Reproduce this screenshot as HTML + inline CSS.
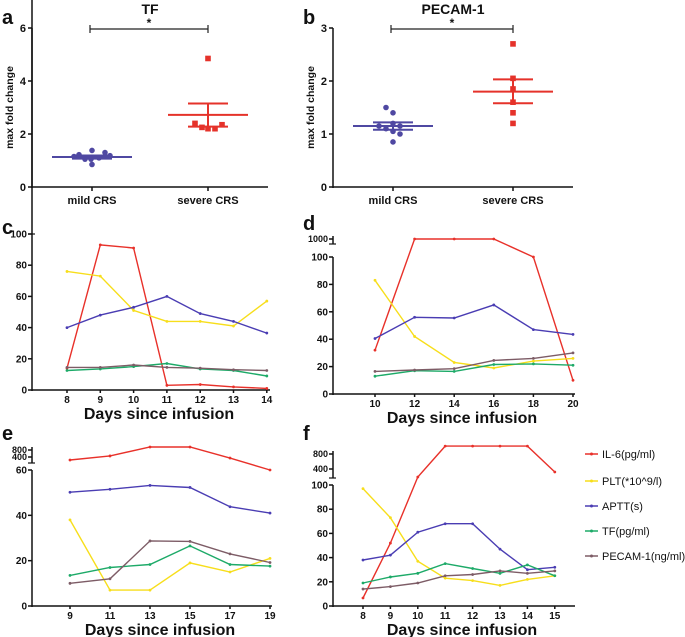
<!DOCTYPE html>
<html><head><meta charset="utf-8"><style>
body{margin:0;background:#fff;}
svg{display:block;font-family:"Liberation Sans",Arial,sans-serif;}
text{font-weight:bold;fill:#111;}
</style></head><body>
<svg id="fig" width="685" height="637" viewBox="0 0 685 637"></svg>
<script>
// ---- Panel a/b data ----
const abCategories = ["mild CRS","severe CRS"];
const aMild = [1.22,1.38,1.3,1.1,1.05,1.15,1.18,1.05,0.85];
const aSevere = [4.85,2.4,2.25,2.2,2.2,2.35];
const aStats = [[1.13,1.19,1.07],[2.72,3.15,2.28]];
const bMild = [1.5,1.4,1.2,1.15,1.15,1.1,1.05,0.85,1.0];
const bSevere = [2.7,2.05,1.85,1.6,1.4,1.2];
const bStats = [[1.15,1.22,1.08],[1.8,2.03,1.58]];
// ---- line panels ----
const seriesNames = ["IL-6(pg/ml)","PLT(*10^9/l)","APTT(s)","TF(pg/ml)","PECAM-1(ng/ml)"];
const cDays = [8,9,10,11,12,13,14];
const cIL6 = [14,93,91,3,3.5,2,1];
const cPLT = [76,73,51,44,44,41,57];
const cAPTT = [40,48,53,60,49,44,36.5];
const cTF = [12.5,13.5,15,17,13.5,12.5,9];
const cPECAM = [14.5,14.5,16,14.5,14,13,12.5];
const dDays = [10,12,14,16,18,20];
const dIL6 = [32,1000,1000,1000,100,10];
const dPLT = [83,42,23,19,24,26];
const dAPTT = [40.5,56,55.5,65,47,43.5];
const dTF = [13,17,16.5,21.5,22,21];
const dPECAM = [16.5,17.5,18.5,24.5,26,30];
const eDays = [9,11,13,15,17,19];
const eIL6 = [230,460,970,970,340,60];
const ePLT = [38,7,7,19,15,21];
const eAPTT = [50.2,51.5,53.2,52.3,43.8,41];
const eTF = [13.5,17,18.3,26.5,18.3,17.6];
const ePECAM = [10,12,28.7,28.5,23,19.2];
const fDays = [8,9,10,11,12,13,14,15];
const fIL6 = [6.6,52,187,1010,1010,1010,1010,320];
const fPLT = [97,73,37,23,21,17,22,25];
const fAPTT = [38,42,61,68,68,47,30,32];
const fTF = [19,24,27,35,31,27,34,25];
const fPECAM = [14,16,19,25,26,29,27,29];
const cTicksY = [0,20,40,60,80,100];
const dTicksY = [0,20,40,60,80,100];
const eTicksY = [0,20,40,60];
const fTicksY = [0,20,40,60,80,100];

const colors = ["#e8312a","#f7de1b","#4a3db3","#1daa68","#7d5c66"];
const NS="http://www.w3.org/2000/svg";
const svg=document.getElementById('fig');
function el(tag,attrs,parent,txt){const e=document.createElementNS(NS,tag);for(const k in attrs)e.setAttribute(k,attrs[k]);if(txt!==undefined)e.textContent=txt;(parent||svg).appendChild(e);return e;}
function line(x1,y1,x2,y2,col,w,p){return el('line',{x1,y1,x2,y2,stroke:col,'stroke-width':w},p);}
function txt(x,y,s,size,anchor,p){return el('text',{x,y,'font-size':size,'text-anchor':anchor||'middle'},p,s);}

// ---------- dot plots ----------
function dotPanel(name,x0,x1,ymax,letter,title,mild,severe,stats,ticks,tick1,tick2,mcol,scol,mSpread,sSpread){
  const g=el('g',{});
  
  
  const y0=187,yt=28;
  const ys=v=>y0-(v/ymax)*(y0-yt);
  line(x0,yt,x0,y0+1,'#111',1.5,g);line(x0,y0,x1,y0,'#111',1.5,g);
  ticks.forEach(t=>{line(x0-4,ys(t),x0,ys(t),'#111',1.5,g);const l=txt(x0-6,ys(t)+4,String(t),11,'end',g);});
  const xc=[tick1,tick2];
  abCategories.forEach((c,i)=>{line(xc[i],y0,xc[i],y0+4,'#111',1.5,g);const l=txt(xc[i],y0+17,c,11,'middle',g);});
  const yl=txt(0,0,'max fold change',10.5,'middle',g);yl.setAttribute('transform',`translate(${x0-19},${(y0+yt)/2}) rotate(-90)`);
  
  const lt=txt(x0-30,24,letter,20,'start',g);
  const tt=txt((tick1+tick2)/2,14,title,14,'middle',g);
  line(tick1-2,yt+1,tick2,yt+1,'#222',1.2,g);line(tick1-2,yt-3,tick1-2,yt+5,'#222',1.2,g);line(tick2,yt-3,tick2,yt+5,'#222',1.2,g);
  txt((tick1+tick2)/2-1,yt-1,'*',12,'middle',g);
  [[mild,mcol,tick1,mSpread],[severe,scol,tick2,sSpread]].forEach(([arr,col,xc2,spread],gi)=>{
    const st=stats[gi];
    line(xc2-40,ys(st[0]),xc2+40,ys(st[0]),col,2,g);
    line(xc2-20,ys(st[1]),xc2+20,ys(st[1]),col,2,g);
    line(xc2-20,ys(st[2]),xc2+20,ys(st[2]),col,2,g);
    line(xc2,ys(st[1]),xc2,ys(st[2]),col,2,g);
    arr.forEach((v,i)=>{
      const off=spread[i%spread.length];
      let m;
      if(gi===0)m=el('circle',{cx:xc2+off,cy:ys(v),r:2.8,fill:col},g);
      else m=el('rect',{x:xc2+off-2.8,y:ys(v)-2.8,width:5.6,height:5.6,fill:col},g);
      
    });
  });
}
dotPanel('panel-a-tf',32,268,6,'a','TF',aMild,aSevere,aStats,[0,2,4,6],92,208,'#4f48a2','#e5322a',
  [-13,0,13,7,-7,-18,18,-1,0],[0,-13,-6,0,7,14]);
dotPanel('panel-b-pecam',333,573,3,'b','PECAM-1',bMild,bSevere,bStats,[0,1,2,3],393,513,'#4f48a2','#e5322a',
  [-7,0,0,-14,7,-7,0,0,7],[0,0,0,0,0,0]);

// ---------- line panels ----------
function linePanel(o){
  const g=el('g',{});
  
  
  const xs=d=>o.xa+(d-o.d0)*o.px;
  const ys=v=>{
    if(v<=o.lmax) return o.y0-(v/o.lmax)*(o.y0-o.ytop);
    if(o.up.length===1) return o.up[0][1]+(o.up[0][0]-v)*0.015;
    const [a,b]=o.up;return a[1]+(v-a[0])*(b[1]-a[1])/(b[0]-a[0]);
  };
  line(o.x0,o.ytop,o.x0,o.y0+1,'#111',1.5,g);line(o.x0,o.y0,o.x1,o.y0,'#111',1.5,g);
  o.ticksY.forEach(t=>{line(o.x0-4,ys(t),o.x0,ys(t),'#111',1.5,g);const l=txt(o.x0-5,ys(t)+3.5,String(t),10,'end',g);});
  const upT=o.up.map(u=>u[1]);
  line(o.x0,Math.min(...upT)-3,o.x0,o.upBreak,'#111',1.5,g);
  line(o.x0-4,o.upBreak,o.x0+3,o.upBreak,'#111',1.2,g);
  o.up.forEach(u=>{line(o.x0-4,u[1],o.x0,u[1],'#111',1.5,g);const l=txt(o.x0-5,u[1]+3,String(u[0]),9,'end',g);});
  o.days.forEach(d=>{line(xs(d),o.y0,xs(d),o.y0+3,'#111',1.5,g);const l=txt(xs(d),o.y0+13,String(d),10,'middle',g);});
  const xt=txt((o.x0+o.x1)/2+8,o.y0+29,'Days since infusion',16,'middle',g);
  const lt=txt(o.x0-30,o.letterY,o.letter,20,'start',g);
  o.series.forEach((arr,si)=>{
    const pts=arr.map((v,i)=>xs(o.days[i]).toFixed(1)+','+ys(v).toFixed(1)).join(' ');
    const pl=el('polyline',{points:pts,fill:'none',stroke:colors[si],'stroke-width':1.4},g);
    
    
    arr.forEach((v,i)=>{const c=el('circle',{cx:xs(o.days[i]),cy:ys(v),r:1.4,fill:colors[si]},g);
      });
  });
}
linePanel({name:'panel-c',letter:'c',letterY:234,x0:32,x1:270,xa:67,d0:8,px:33.3,y0:390,ytop:234,lmax:100,up:[],upBreak:234,ticksY:cTicksY,days:cDays,series:[cIL6,cPLT,cAPTT,cTF,cPECAM]});
linePanel({name:'panel-d',letter:'d',letterY:230,x0:333,x1:575,xa:375,d0:10,px:19.8,y0:394,ytop:257,lmax:100,up:[[1000,239]],upBreak:244,ticksY:dTicksY,days:dDays,series:[dIL6,dPLT,dAPTT,dTF,dPECAM]});
linePanel({name:'panel-e',letter:'e',letterY:440,x0:32,x1:272,xa:70,d0:9,px:20,y0:606,ytop:470,lmax:60,up:[[800,450],[400,457]],upBreak:463,ticksY:eTicksY,days:eDays,series:[eIL6,ePLT,eAPTT,eTF,ePECAM]});
linePanel({name:'panel-f',letter:'f',letterY:440,x0:333,x1:575,xa:363,d0:8,px:27.4,y0:606,ytop:485,lmax:100,up:[[800,454],[400,469]],upBreak:478,ticksY:fTicksY,days:fDays,series:[fIL6,fPLT,fAPTT,fTF,fPECAM]});

// legend
const lg=el('g',{});


const legY=[454,481,506,531,556];
seriesNames.forEach((n,i)=>{
  const e=el('g',{},lg);
  
  
  line(585,legY[i],598,legY[i],colors[i],1.5,e);
  el('circle',{cx:591.5,cy:legY[i],r:1.5,fill:colors[i]},e);
  el('text',{x:602,y:legY[i]+4,'font-size':11,'text-anchor':'start',style:'font-weight:normal'},e,n);
});
</script>
</body></html>
